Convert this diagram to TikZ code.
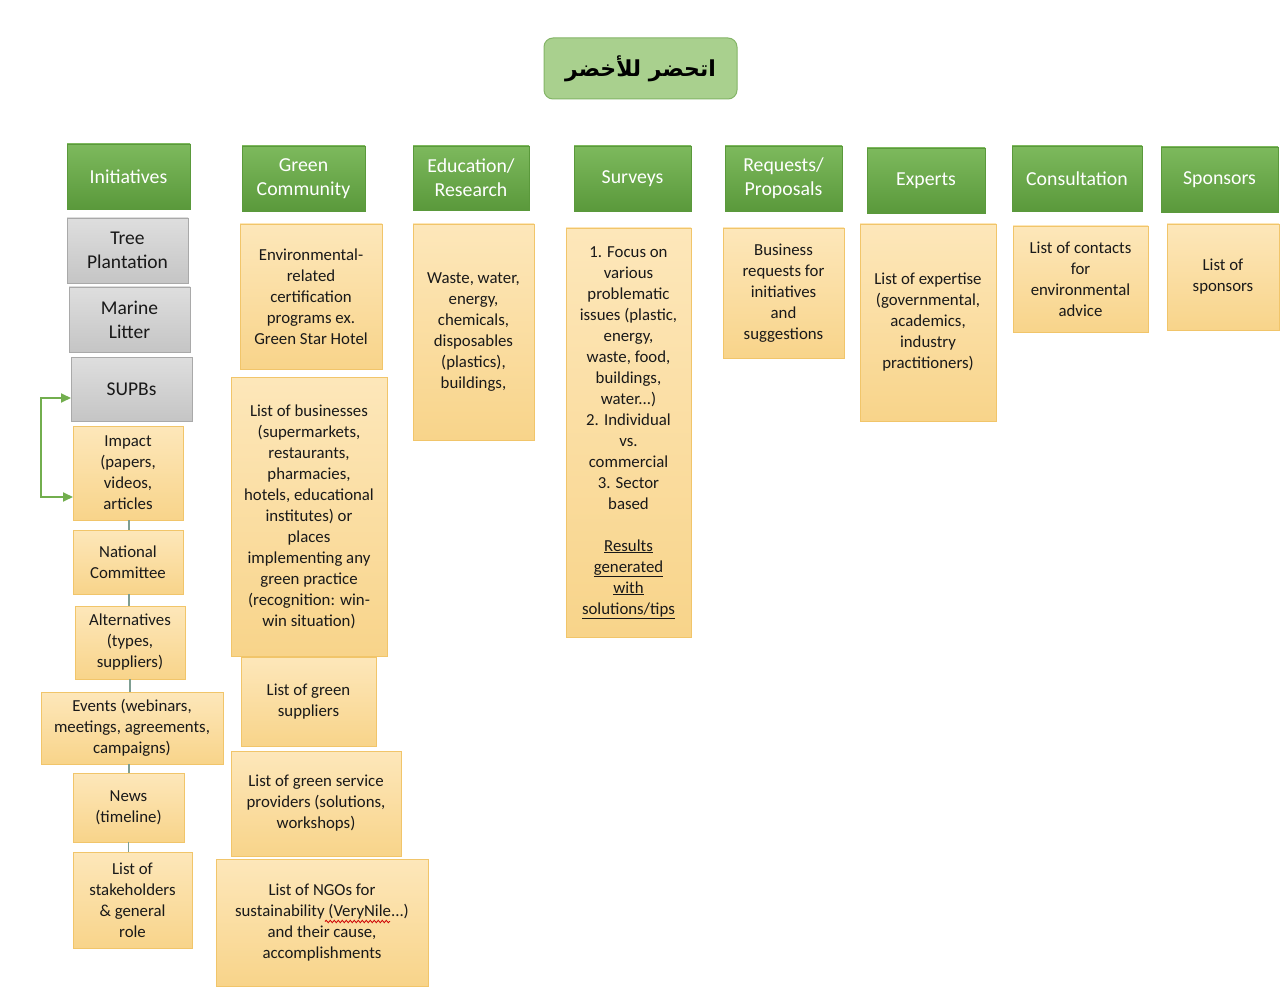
\documentclass[tikz,border=0pt]{standalone}
\usepackage{fontspec}
\setmainfont{Carlito}
\newfontfamily\arabicfont[Script=Arabic]{DejaVu Sans}
\TeXXeTstate=1
\usetikzlibrary{arrows.meta,decorations.pathmorphing}

\definecolor{hdrtop}{HTML}{7DB95D}
\definecolor{hdrbot}{HTML}{5A993B}
\definecolor{graytop}{HTML}{DEDEDE}
\definecolor{graybot}{HTML}{C5C5C5}
\definecolor{grayline}{HTML}{A9A9A9}
\definecolor{yeltop}{HTML}{FDE7BA}
\definecolor{yelbot}{HTML}{F8D48A}
\definecolor{yelline}{HTML}{F1C56A}
\definecolor{titlefill}{HTML}{A9D08E}
\definecolor{titleline}{HTML}{84B567}
\definecolor{linkgreen}{HTML}{72AE4E}
\definecolor{stemline}{HTML}{7F9E92}

\tikzset{
  base/.style={inner sep=0pt, outer sep=0pt, align=center},
  hdr/.style={base, top color=hdrtop, bottom color=hdrbot, draw=hdrbot, line width=0.6pt,
    text=white, font=\fontsize{19.8}{24}\selectfont},
  graybox/.style={base, top color=graytop, bottom color=graybot, draw=grayline, line width=0.8pt,
    text=black!90, font=\fontsize{19.5}{24}\selectfont},
  yelbox/.style={base, top color=yeltop, bottom color=yelbot, draw=yelline, line width=0.8pt,
    text=black!90, font=\fontsize{16.8}{21}\selectfont},
  titlebox/.style={base, fill=titlefill, draw=titleline, line width=1pt, rounded corners=9pt},
  stem/.style={draw=stemline, line width=1.6pt},
  loop/.style={draw=linkgreen, line width=2pt, {Triangle[length=10pt,width=9pt]}-{Triangle[length=10pt,width=9pt]}},
  squiggle/.style={draw=red!80!black, line width=0.8pt,
    decorate, decoration={snake, amplitude=1.2pt, segment length=4pt}}
}

% \placebox{name}{style}{left}{top}{right}{bottom}{text}
\newcommand\placebox[7]{%
  \node[#2, minimum width={(#5)-(#3)}, minimum height={(#6)-(#4)}]
    (#1) at ({((#3)+(#5))/2},{((#4)+(#6))/2}) {#7};}

\begin{document}
\begin{tikzpicture}[x=1pt,y=-1pt]
  \fill[white] (0,0) rectangle (1286,987);
  \useasboundingbox (0,0) rectangle (1286,987);

  % title
  \placebox{title}{titlebox}{544}{38}{737}{99}%
    {\fontsize{22}{26}\arabicfont\bfseries\beginR اتحضر للأخضر\endR}

  % column headers
  \placebox{hInit}{hdr}{67}{144}{190}{209}{Initiatives}
  \placebox{hGreen}{hdr}{242}{146}{365}{211}{Green\\Community}
  \placebox{hEdu}{hdr}{413}{146}{529}{210}{Education/\\Research}
  \placebox{hSurv}{hdr}{574}{146}{691}{211}{Surveys}
  \placebox{hReq}{hdr}{725}{146}{842}{211}{Requests/\\Proposals}
  \placebox{hExp}{hdr}{867}{148}{985}{213}{Experts}
  \placebox{hCons}{hdr}{1012}{146}{1142}{211}{Consultation}
  \placebox{hSpon}{hdr}{1161}{147}{1278}{212}{Sponsors}

  % initiatives
  \placebox{tree}{graybox}{67}{218}{188}{283}{Tree\\Plantation}
  \placebox{marine}{graybox}{69}{287}{190}{352}{Marine\\Litter}
  \placebox{supbs}{graybox}{71}{357}{192}{421}{SUPBs}

  \placebox{impact}{yelbox}{73}{426}{183}{520}{Impact\\(papers,\\videos,\\articles}
  \placebox{national}{yelbox}{73}{530}{183}{594}{National\\Committee}
  \placebox{alter}{yelbox}{75}{606}{185}{679}{Alternatives\\(types,\\suppliers)}
  \placebox{events}{yelbox}{41}{692}{223}{764}{Events (webinars,\\meetings, agreements,\\campaigns)}
  \placebox{news}{yelbox}{73}{773}{184}{842}{News\\(timeline)}
  \placebox{stake}{yelbox}{73}{852}{192}{948}{List of\\stakeholders\\\& general\\role}

  % short stems down the initiatives column
  \draw[stem] ([xshift=1pt]impact.south) -- ([xshift=1pt]impact.south |- national.north);
  \draw[stem] ([xshift=1pt]national.south) -- ([xshift=1pt]national.south |- alter.north);
  \draw[stem] (alter.south) -- (alter.south |- events.north);
  \draw[stem] ([xshift=-3pt]events.south) -- ([xshift=-3pt]events.south |- news.north);
  \draw[stem] (news.south) -- (news.south |- stake.north);

  % two-way link between SUPBs and Impact
  \coordinate (supIn) at ([yshift=-9pt]supbs.west);
  \coordinate (impIn) at ([yshift=-24pt]impact.west);
  \coordinate (loopTop) at ([xshift=-30pt]supIn);
  \draw[loop] (supIn) -- (loopTop) -- (loopTop |- impIn) -- (impIn);

  % green community
  \placebox{cert}{yelbox}{240}{224}{382}{369}{Environmental-\\related\\certification\\programs ex.\\Green Star Hotel}
  \placebox{biz}{yelbox}{231}{377}{387}{656}{List of businesses\\(supermarkets,\\restaurants,\\pharmacies,\\hotels, educational\\institutes) or\\places\\implementing any\\green practice\\(recognition: win-\\win situation)}
  \placebox{suppl}{yelbox}{241}{657}{376}{746}{List of green\\suppliers}
  \placebox{service}{yelbox}{231}{751}{401}{856}{List of green service\\providers (solutions,\\workshops)}
  \placebox{ngo}{yelbox}{216}{859}{428}{986}{List of NGOs for\\sustainability (VeryNile...)\\and their cause,\\accomplishments}
  % spell-check mark under the organisation name
  \draw[squiggle] ([xshift=3pt,yshift=1pt]ngo.center) -- ([xshift=68pt,yshift=1pt]ngo.center);

  % remaining columns
  \placebox{edu}{yelbox}{413}{224}{534}{440}{Waste, water,\\energy,\\chemicals,\\disposables\\(plastics),\\buildings,}
  \placebox{surv}{yelbox}{566}{228}{691}{637}{1. Focus on\\various\\problematic\\issues (plastic,\\energy,\\waste, food,\\buildings,\\water...)\\2. Individual\\vs.\\commercial\\3. Sector\\based\\[21pt]\underline{Results}\\\underline{generated}\\\underline{with}\\\underline{solutions/tips}}
  \placebox{req}{yelbox}{723}{228}{844}{358}{Business\\requests for\\initiatives\\and\\suggestions}
  \placebox{exp}{yelbox}{860}{224}{996}{421}{List of expertise\\(governmental,\\academics,\\industry\\practitioners)}
  \placebox{cons}{yelbox}{1013}{226}{1148}{332}{List of contacts\\for\\environmental\\advice}
  \placebox{spon}{yelbox}{1167}{224}{1279}{330}{List of\\sponsors}
\end{tikzpicture}
\end{document}
